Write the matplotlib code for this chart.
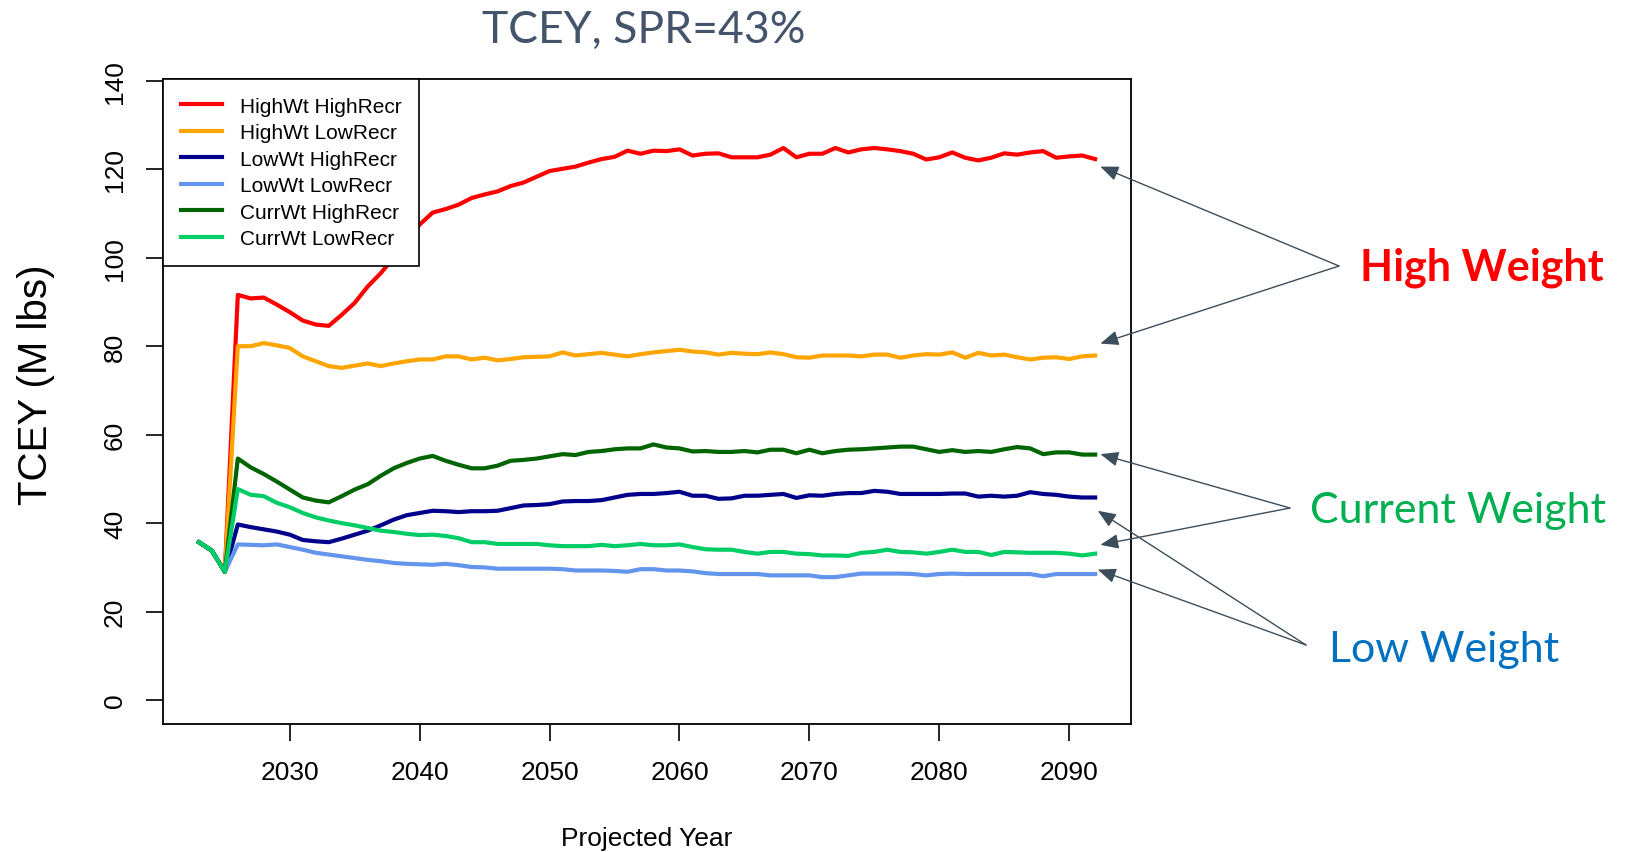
import numpy as np
import matplotlib
matplotlib.use("Agg")
import matplotlib.pyplot as plt

# projected years and TCEY (M lbs) for each weight/recruitment scenario
years_hist = [2023, 2024]
tcey_hist = [35.7, 33.8]

years = list(range(2025, 2093))

high_high = [29.0, 91.6, 90.8, 91.0, 89.4, 87.7, 85.8, 84.9, 84.6, 87.1,
             89.8, 93.5, 96.5, 100.0, 104.0, 107.5, 110.2, 111.0, 112.0, 113.5,
             114.3, 115.0, 116.2, 117.0, 118.3, 119.6, 120.1, 120.6, 121.5, 122.3,
             122.8, 124.2, 123.5, 124.2, 124.1, 124.5, 123.1, 123.5, 123.6, 122.7,
             122.7, 122.7, 123.3, 124.8, 122.7, 123.5, 123.5, 124.8, 123.8, 124.5,
             124.8, 124.5, 124.1, 123.5, 122.2, 122.7, 123.8, 122.6, 122.0, 122.6,
             123.6, 123.3, 123.8, 124.1, 122.6, 122.9, 123.1, 122.3]
high_low = [29.0, 80.0, 80.0, 80.7, 80.2, 79.6, 77.7, 76.6, 75.5, 75.1,
            75.6, 76.1, 75.5, 76.1, 76.6, 77.0, 77.0, 77.7, 77.7, 77.0,
            77.4, 76.8, 77.1, 77.5, 77.6, 77.7, 78.6, 77.9, 78.2, 78.5,
            78.1, 77.7, 78.2, 78.6, 78.9, 79.2, 78.8, 78.6, 78.1, 78.5,
            78.3, 78.2, 78.6, 78.2, 77.5, 77.4, 77.9, 77.9, 77.9, 77.7,
            78.1, 78.1, 77.4, 77.9, 78.2, 78.1, 78.6, 77.4, 78.5, 77.9,
            78.1, 77.5, 77.0, 77.4, 77.5, 77.1, 77.7, 77.9]
low_high = [29.0, 39.7, 39.1, 38.6, 38.1, 37.4, 36.2, 35.9, 35.7, 36.5,
            37.4, 38.3, 39.5, 40.8, 41.8, 42.3, 42.8, 42.7, 42.5, 42.7,
            42.7, 42.8, 43.4, 44.0, 44.1, 44.3, 44.9, 45.0, 45.0, 45.2,
            45.8, 46.4, 46.6, 46.6, 46.8, 47.1, 46.2, 46.2, 45.5, 45.6,
            46.2, 46.2, 46.4, 46.6, 45.7, 46.3, 46.2, 46.6, 46.8, 46.8,
            47.3, 47.1, 46.6, 46.6, 46.6, 46.6, 46.7, 46.7, 46.0, 46.2,
            46.0, 46.2, 47.0, 46.6, 46.4, 46.0, 45.8, 45.8]
low_low = [29.0, 35.2, 35.1, 35.0, 35.2, 34.6, 34.0, 33.3, 32.9, 32.5,
           32.1, 31.7, 31.4, 31.0, 30.8, 30.7, 30.6, 30.8, 30.5, 30.1,
           30.0, 29.7, 29.7, 29.7, 29.7, 29.7, 29.6, 29.3, 29.3, 29.3,
           29.2, 29.0, 29.6, 29.6, 29.3, 29.3, 29.1, 28.7, 28.5, 28.5,
           28.5, 28.5, 28.2, 28.2, 28.2, 28.2, 27.8, 27.8, 28.2, 28.6,
           28.6, 28.6, 28.6, 28.5, 28.2, 28.5, 28.6, 28.5, 28.5, 28.5,
           28.5, 28.5, 28.5, 28.0, 28.5, 28.5, 28.5, 28.5]
curr_high = [29.0, 54.6, 52.6, 51.1, 49.4, 47.6, 45.8, 45.1, 44.7, 46.1,
             47.6, 48.8, 50.7, 52.4, 53.6, 54.6, 55.2, 54.1, 53.2, 52.4,
             52.4, 53.0, 54.1, 54.3, 54.6, 55.1, 55.6, 55.4, 56.1, 56.3,
             56.7, 56.9, 56.9, 57.8, 57.1, 56.9, 56.2, 56.3, 56.1, 56.1,
             56.3, 56.0, 56.6, 56.6, 55.8, 56.6, 55.8, 56.3, 56.6, 56.7,
             56.9, 57.1, 57.3, 57.3, 56.7, 56.1, 56.5, 56.1, 56.3, 56.1,
             56.7, 57.2, 56.9, 55.6, 56.0, 56.0, 55.5, 55.5]
curr_low = [29.0, 47.7, 46.4, 46.1, 44.6, 43.6, 42.3, 41.3, 40.6, 40.0,
            39.5, 38.9, 38.3, 38.0, 37.6, 37.3, 37.4, 37.1, 36.6, 35.7,
            35.7, 35.3, 35.3, 35.3, 35.3, 35.0, 34.8, 34.8, 34.8, 35.1,
            34.8, 35.0, 35.3, 35.0, 35.0, 35.2, 34.6, 34.1, 34.0, 34.0,
            33.5, 33.1, 33.5, 33.5, 33.1, 33.0, 32.7, 32.7, 32.6, 33.3,
            33.5, 34.0, 33.5, 33.4, 33.1, 33.5, 34.0, 33.5, 33.5, 32.8,
            33.5, 33.4, 33.3, 33.3, 33.3, 33.1, 32.7, 33.1]

labels = ["HighWt HighRecr", "HighWt LowRecr", "LowWt HighRecr",
          "LowWt LowRecr", "CurrWt HighRecr", "CurrWt LowRecr"]
colors = ["#FF0000", "#FFA500", "#00008B", "#6495ED", "#006400", "#00CD66"]
series = [high_high, high_low, low_high, low_low, curr_high, curr_low]

plt.rcParams['font.family'] = ['Liberation Sans', 'DejaVu Sans']

fig = plt.figure(figsize=(16.28, 8.53), dpi=100)
ax = fig.add_axes([163/1628, 1 - 725/853, (1131 - 163)/1628, (725 - 80)/853])

for vals, col, lab in zip(series, colors, labels):
    x = years_hist + years
    y = tcey_hist + vals
    ax.plot(x, y, color=col, lw=3, label=lab, solid_joinstyle='round')

ax.set_xlim(2020.24, 2094.76)
ax.set_ylim(-5.4, 140.4)
ax.set_xticks(np.arange(2030, 2091, 10))
ax.set_yticks(np.arange(0, 141, 20))
ax.tick_params(axis='both', direction='out', length=12, width=1.2,
               labelsize=19, color='black')
ax.tick_params(axis='x', pad=14)
ax.tick_params(axis='y', pad=14)
for t in ax.get_yticklabels():
    t.set_rotation(90)
    t.set_va('center')
for s in ax.spines.values():
    s.set_linewidth(1.3)

leg = ax.legend(loc='upper left', bbox_to_anchor=(0, 1), fontsize=15,
                frameon=True, fancybox=False, edgecolor='black',
                framealpha=1, handlelength=2.0, handletextpad=0.85,
                labelspacing=0.36, borderpad=0.85, borderaxespad=0)
leg.get_frame().set_linewidth(1.2)

fig.text(36/1628, 1 - 385/853, "TCEY (M lbs)", rotation=90, fontsize=29,
         ha='center', va='center')
fig.text(647/1628, 1 - 839/853, "Projected Year", fontsize=19,
         ha='center', va='center')
fig.text(644/1628, 1 - 30/853, "TCEY, SPR=43%", fontsize=32, color='#44546A',
         family='Lato', ha='center', va='center')

# annotations pointing at line ends
arrow_col = '#3C4E5C'
aprops = dict(arrowstyle='-|>,head_length=1.1,head_width=0.45',
              color=arrow_col, lw=1, shrinkA=0, shrinkB=0, mutation_scale=10)
groups = [
    ("High Weight", '#FF0000', 'bold', (1339, 267), (1360, 268),
     [(2092.4, 120.6), (2092.4, 80.6)]),
    ("Current Weight", '#00B050', 'normal', (1290, 509), (1310, 511),
     [(2092.4, 55.6), (2092.4, 35.1)]),
    ("Low Weight", '#0070C0', 'normal', (1306, 646), (1329, 650),
     [(2092.2, 42.8), (2092.2, 29.5)]),
]
for text, tcol, weight, src, tpos, tips in groups:
    for tip in tips:
        ax.annotate("", xy=tip, xycoords='data',
                    xytext=(src[0]/1628, 1 - src[1]/853),
                    textcoords='figure fraction', arrowprops=aprops,
                    annotation_clip=False)
    fig.text(tpos[0]/1628, 1 - tpos[1]/853, text, color=tcol, fontsize=31,
             fontweight=weight, family='Lato', ha='left', va='center')

fig.savefig("out.png", dpi=100)
